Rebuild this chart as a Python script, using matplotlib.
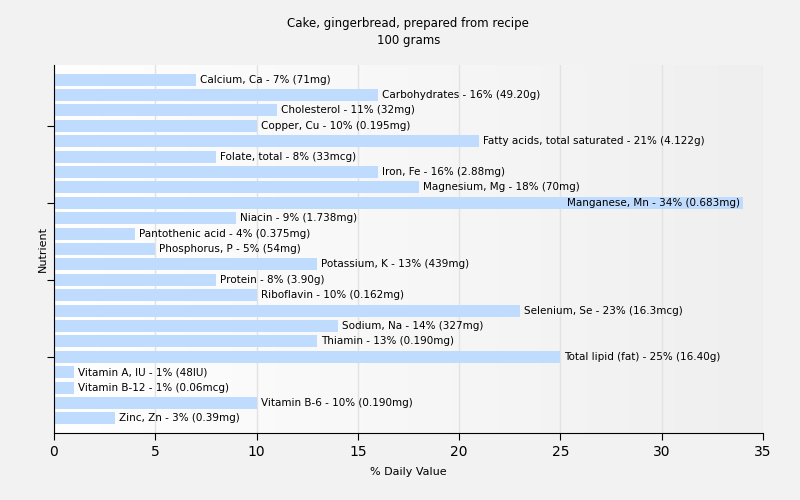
import numpy as np
import matplotlib
matplotlib.use("Agg")
import matplotlib.pyplot as plt

# nutrient names, % daily value and amounts, top to bottom as in the chart
nutrients = ["Calcium, Ca", "Carbohydrates", "Cholesterol", "Copper, Cu",
             "Fatty acids, total saturated", "Folate, total", "Iron, Fe",
             "Magnesium, Mg", "Manganese, Mn", "Niacin", "Pantothenic acid",
             "Phosphorus, P", "Potassium, K", "Protein", "Riboflavin",
             "Selenium, Se", "Sodium, Na", "Thiamin", "Total lipid (fat)",
             "Vitamin A, IU", "Vitamin B-12", "Vitamin B-6", "Zinc, Zn"]
percent = [7, 16, 11, 10, 21, 8, 16, 18, 34, 9, 4, 5, 13, 8, 10, 23, 14, 13,
           25, 1, 1, 10, 3]
amounts = ["71mg", "49.20g", "32mg", "0.195mg", "4.122g", "33mcg", "2.88mg",
           "70mg", "0.683mg", "1.738mg", "0.375mg", "54mg", "439mg", "3.90g",
           "0.162mg", "16.3mcg", "327mg", "0.190mg", "16.40g", "48IU",
           "0.06mcg", "0.190mg", "0.39mg"]

plt.rcParams['font.family'] = ['DejaVu Sans']

fig = plt.figure(figsize=[8, 5], dpi=100, facecolor='#f2f2f2')
ax = fig.add_axes([0.0675, 0.134, 0.886, 0.736])

n = len(nutrients)
ypos = np.arange(n)[::-1]

# background gradient of the plot area
grad = np.linspace(0, 1, 256).reshape(1, -1)
ax.imshow(grad, extent=[0, 35, -0.95, n - 0.05], aspect='auto',
          cmap=matplotlib.colors.LinearSegmentedColormap.from_list('bg', ['#ffffff', '#efefef']),
          zorder=0)

ax.barh(ypos, percent, height=0.78, color='#bfdbfe', zorder=2)

for y, p, name, amt in zip(ypos, percent, nutrients, amounts):
    label = "%s - %d%% (%s)" % (name, p, amt)
    if p > 30:
        ax.text(p - 0.15, y, label, ha='right', va='center', fontsize=7.5, zorder=3)
    else:
        ax.text(p + 0.2, y, label, ha='left', va='center', fontsize=7.5, zorder=3)

ax.set_xlim(0, 35)
ax.set_ylim(-0.95, n - 0.05)
ax.set_xticks([0, 5, 10, 15, 20, 25, 30, 35])
ax.set_yticks([4, 9, 14, 19])
ax.set_yticklabels([])
ax.tick_params(axis='x', labelsize=10, length=5)
ax.tick_params(axis='y', length=5)
ax.grid(axis='x', color='#e2e2e2', linewidth=1, zorder=1)
ax.set_axisbelow(True)
for s in ['top', 'right']:
    ax.spines[s].set_visible(False)

ax.set_title("Cake, gingerbread, prepared from recipe\n100 grams", fontsize=8.5,
             pad=15, linespacing=1.45)
ax.set_xlabel("% Daily Value", fontsize=8, labelpad=6)
ax.set_ylabel("Nutrient", fontsize=8)
ax.yaxis.set_label_coords(-0.008, 0.5)

fig.savefig("out.png", dpi=100, facecolor=fig.get_facecolor())
